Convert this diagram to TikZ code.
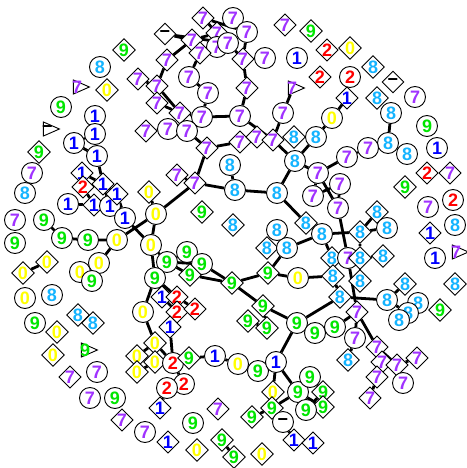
\documentclass[tikz,border=0pt]{standalone}
\usepackage{fontspec}
\setmainfont{Liberation Sans}
\usepackage{tikz}
\usetikzlibrary{shapes.geometric}
\definecolor{zero}{RGB}{255,255,0}
\definecolor{one}{RGB}{0,0,255}
\definecolor{two}{RGB}{255,0,0}
\definecolor{seven}{RGB}{160,50,255}
\definecolor{eight}{RGB}{20,180,255}
\definecolor{nine}{RGB}{0,230,0}
\pgfdeclarelayer{back}
\pgfsetlayers{back,main}

\begin{document}
\begin{tikzpicture}[
      x=1pt, y=-1pt,
      every node/.style={font=\bfseries\fontsize{18}{18}\selectfont, inner sep=0pt},
      rn/.style={circle, draw, fill=white, line width=0.9pt, minimum size=21pt},
      dm/.style={diamond, draw, fill=white, line width=0.9pt, minimum size=22pt, aspect=1},
      tr/.style={isosceles triangle, isosceles triangle stretches, draw, fill=white,
                 line width=0.9pt, minimum height=16pt, minimum width=14pt, shape border rotate=0,
                 label={[#1, anchor=west, xshift=-1pt]west:\trlabel}},
      c0/.style={text=zero}, c1/.style={text=one}, c2/.style={text=two},
      c7/.style={text=seven}, c8/.style={text=eight}, c9/.style={text=nine},
      edge/.style={line width=2.8pt},
      ]
      \useasboundingbox (0,0) rectangle (466,468);
      % top left, loose
      \node[dm,c9] (a1) at (124,50) {9};
      \node[rn,c8] (a2) at (100,67) {8};
      \def\trlabel{7}
      \node[tr=c7] (a3) at (78,87) {};
      \node[dm,c0] (a4) at (107,90) {0};
      \node[rn,c9] (a5) at (61,107) {9};
      \def\trlabel{−}
      \node[tr=black] (a6) at (48,129) {};
      \node[dm,c9] (a7) at (39,152) {9};
      % ones
      \node[rn,c1] (b1) at (95,116) {1};
      \node[rn,c1] (b2) at (95,134) {1};
      \node[rn,c1] (b3) at (74,143) {1};
      \node[rn,c1] (b4) at (97,156) {1};
      \node[dm,c1] (b5) at (82,173) {1};
      \node[dm,c2] (b6) at (83,187) {2};
      \node[dm,c1] (b7) at (103,184) {1};
      \node[rn,c1] (b8) at (68,204) {1};
      \node[dm,c1] (b9) at (94,205) {1};
      \node[rn,c1] (b10) at (110,206) {1};
      \node[dm,c1] (b11) at (117,194) {1};
      \node[rn,c1] (b12) at (125,218) {1};
      % left side
      \node[rn,c7] (c1) at (32,173) {7};
      \node[rn,c8] (c2) at (25,193) {8};
      \node[rn,c7] (c3) at (15,220) {7};
      \node[rn,c9] (c4) at (15,243) {9};
      \node[rn,c9] (c5) at (44,220) {9};
      \node[rn,c9] (c6) at (62,238) {9};
      \node[rn,c9] (c7) at (88,240) {9};
      \node[rn,c0] (c8) at (117,240) {0};
      \node[rn,c0] (c9) at (99,263) {0};
      \node[rn,c0] (c10) at (80,272) {0};
      \node[rn,c9] (c11) at (92,281) {9};
      \node[dm,c0] (c12) at (23,273) {0};
      \node[dm,c0] (c13) at (47,262) {0};
      \node[rn,c0] (c14) at (25,298) {0};
      \node[rn,c8] (c15) at (52,295) {8};
      % lower left
      \node[dm,c8] (d1) at (78,315) {8};
      \node[dm,c8] (d2) at (93,323) {8};
      \node[rn,c9] (d3) at (35,323) {9};
      \node[dm,c0] (d4) at (57,332) {0};
      \node[dm,c0] (d5) at (53,355) {0};
      \def\trlabel{9}
      \node[tr=c9] (d6) at (86,350) {};
      \node[dm,c7] (d7) at (70,377) {7};
      \node[rn,c7] (d8) at (97,372) {7};
      \node[rn,c7] (d9) at (90,398) {7};
      \node[rn,c9] (d10) at (115,398) {9};
      \node[dm,c7] (d11) at (122,420) {7};
      \node[rn,c7] (d12) at (145,432) {7};
      % zeros and nines
      \node[dm,c0] (e1) at (149,192) {0};
      \node[rn,c0] (e2) at (156,214) {0};
      \node[rn,c0] (e3) at (151,245) {0};
      \node[rn,c9] (e4) at (167,262) {9};
      \node[rn,c9] (e5) at (187,252) {9};
      \node[rn,c9] (e6) at (202,264) {9};
      \node[dm,c9] (e7) at (190,275) {9};
      \node[rn,c9] (e8) at (155,278) {9};
      \node[dm,c9] (e9) at (232,283) {9};
      \node[dm,c1] (e10) at (162,297) {1};
      \node[dm,c2] (e11) at (177,297) {2};
      \node[dm,c2] (e12) at (177,312) {2};
      \node[dm,c2] (e13) at (195,309) {2};
      \node[rn,c0] (e14) at (143,312) {0};
      \node[dm,c1] (e15) at (170,327) {1};
      \node[dm,c0] (f1) at (155,343) {0};
      \node[dm,c0] (f2) at (137,356) {0};
      \node[dm,c0] (f3) at (155,362) {0};
      \node[dm,c0] (f4) at (137,372) {0};
      % bottom chain
      \node[rn,c2] (g1) at (173,363) {2};
      \node[dm,c9] (g2) at (189,358) {9};
      \node[rn,c1] (g3) at (215,356) {1};
      \node[rn,c0] (g4) at (238,364) {0};
      \node[rn,c9] (g5) at (258,371) {9};
      \node[rn,c1] (g6) at (276,362) {1};
      \node[rn,c2] (g7) at (184,384) {2};
      \node[rn,c2] (g8) at (167,388) {2};
      \node[dm,c1] (g9) at (160,408) {1};
      \node[dm,c0] (g10) at (273,392) {0};
      \node[rn,c9] (g11) at (298,392) {9};
      \node[rn,c9] (g12) at (310,377) {9};
      \node[dm,c9] (g13) at (272,408) {9};
      \node[dm,c9] (g14) at (252,417) {9};
      \node[rn] (g15) at (283,422) {−};
      \node[dm,c1] (g16) at (294,440) {1};
      \node[dm,c9] (g17) at (323,392) {9};
      \node[dm,c9] (g18) at (323,407) {9};
      \node[rn,c9] (g19) at (306,410) {9};
      \node[dm,c1] (g20) at (313,443) {1};
      % bottom, loose
      \node[dm,c7] (h1) at (218,409) {7};
      \node[rn,c9] (h2) at (193,423) {9};
      \node[dm,c1] (h3) at (168,442) {1};
      \node[dm,c0] (h4) at (197,450) {0};
      \node[dm,c9] (h5) at (222,440) {9};
      \node[dm,c9] (h6) at (234,457) {9};
      \node[dm,c0] (h7) at (262,454) {0};
      % nines in the middle
      \node[dm,c9] (i1) at (263,306) {9};
      \node[dm,c9] (i2) at (248,321) {9};
      \node[dm,c9] (i3) at (267,328) {9};
      \node[rn,c9] (i4) at (297,323) {9};
      \node[rn,c9] (i5) at (315,333) {9};
      \node[rn,c9] (i6) at (335,327) {9};
      % eights in the middle
      \node[rn,c8] (j1) at (230,165) {8};
      \node[rn,c8] (j2) at (235,190) {8};
      \node[dm,c7] (j3) at (177,175) {7};
      \node[dm,c7] (j4) at (195,183) {7};
      \node[dm,c9] (j5) at (202,212) {9};
      \node[dm,c8] (j6) at (233,225) {8};
      \node[rn,c8] (j7) at (277,193) {8};
      \node[rn,c8] (j8) at (295,161) {8};
      \node[dm,c9] (j9) at (268,273) {9};
      \node[rn,c0] (j10) at (298,278) {0};
      \node[dm,c8] (j11) at (267,248) {8};
      \node[rn,c8] (j12) at (287,248) {8};
      \node[rn,c8] (j13) at (277,230) {8};
      \node[dm,c8] (j14) at (306,223) {8};
      \node[rn,c8] (j15) at (322,234) {8};
      % right middle
      \node[rn,c7] (k1) at (318,173) {7};
      \node[rn,c7] (k2) at (340,184) {7};
      \node[rn,c7] (k3) at (313,196) {7};
      \node[rn,c7] (k4) at (338,208) {7};
      \node[dm,c8] (k5) at (377,212) {8};
      \node[rn,c8] (k6) at (387,228) {8};
      \node[dm,c8] (k7) at (360,232) {8};
      \node[dm,c8] (k8) at (332,258) {8};
      \node[rn,c7] (k9) at (348,258) {7};
      \node[dm,c8] (k10) at (360,258) {8};
      \node[dm,c8] (k11) at (383,256) {8};
      \node[dm,c8] (k12) at (333,276) {8};
      \node[dm,c8] (k13) at (360,281) {8};
      \node[dm,c8] (k14) at (340,297) {8};
      \node[dm,c8] (k15) at (405,284) {8};
      \node[rn,c8] (k16) at (387,300) {8};
      \node[rn,c8] (k17) at (418,303) {8};
      \node[rn,c8] (k18) at (408,313) {8};
      \node[rn,c8] (k19) at (399,320) {8};
      \node[dm,c9] (k20) at (440,310) {9};
      % right side, loose
      \node[dm,c9] (m1) at (405,187) {9};
      \node[dm,c2] (m2) at (427,173) {2};
      \node[dm,c7] (m3) at (450,173) {7};
      \node[rn,c7] (m4) at (428,207) {7};
      \node[rn,c2] (m5) at (453,200) {2};
      \node[rn,c8] (m6) at (455,225) {8};
      \node[dm,c1] (m7) at (430,233) {1};
      \node[rn,c1] (m8) at (435,258) {1};
      \def\trlabel{7}
      \node[tr=c7] (m9) at (457,252) {};
      \node[dm,c8] (m10) at (455,284) {8};
      % sevens, lower right
      \node[dm,c7] (n1) at (357,312) {7};
      \node[rn,c7] (n2) at (355,338) {7};
      \node[dm,c8] (n3) at (348,360) {8};
      \node[dm,c7] (n4) at (377,347) {7};
      \node[dm,c7] (n5) at (382,362) {7};
      \node[dm,c7] (n6) at (377,377) {7};
      \node[dm,c7] (n7) at (397,365) {7};
      \node[dm,c7] (n8) at (417,358) {7};
      \node[rn,c7] (n9) at (403,383) {7};
      \node[dm,c7] (n10) at (370,398) {7};
      % top right
      \node[rn,c1] (p1) at (297,58) {1};
      \node[dm,c7] (p2) at (285,25) {7};
      \node[dm,c9] (p3) at (311,31) {9};
      \node[dm,c2] (p4) at (327,50) {2};
      \node[dm,c0] (p5) at (350,48) {0};
      \node[dm,c8] (p6) at (373,67) {8};
      \node[dm,c2] (p7) at (320,77) {2};
      \node[rn,c2] (p8) at (350,77) {2};
      \node[dm] (p9) at (393,82) {−};
      \node[rn,c7] (p10) at (415,97) {7};
      \node[dm,c1] (p11) at (347,98) {1};
      \node[dm,c8] (p12) at (377,98) {8};
      \node[rn,c0] (p13) at (332,118) {0};
      \node[rn,c8] (p14) at (391,113) {8};
      \node[rn,c9] (p15) at (427,126) {9};
      \node[rn,c8] (p16) at (316,137) {8};
      \node[rn,c8] (p17) at (388,143) {8};
      \node[rn,c7] (p18) at (368,148) {7};
      \node[rn,c7] (p19) at (347,157) {7};
      \node[rn,c8] (p20) at (407,154) {8};
      \node[rn,c1] (p21) at (437,148) {1};
      \node[dm,c8] (p22) at (294,137) {8};
      % sevens, top
      \node[dm] (q1) at (165,34) {−};
      \node[dm,c7] (q2) at (203,18) {7};
      \node[rn,c7] (q3) at (233,18) {7};
      \node[rn,c7] (q4) at (247,32) {7};
      \node[dm,c7] (q5) at (217,33) {7};
      \node[dm,c7] (q6) at (192,40) {7};
      \node[rn,c7] (q7) at (217,47) {7};
      \node[rn,c7] (q8) at (228,43) {7};
      \node[dm,c7] (q9) at (200,53) {7};
      \node[dm,c7] (q10) at (243,59) {7};
      \node[rn,c7] (q11) at (265,58) {7};
      \node[dm,c7] (q12) at (167,60) {7};
      \node[rn,c7] (q13) at (189,77) {7};
      \node[rn,c7] (q14) at (208,93) {7};
      \node[dm,c7] (q15) at (247,88) {7};
      \node[dm,c7] (q16) at (157,86) {7};
      \node[dm,c7] (q17) at (157,103) {7};
      \def\trlabel{7}
      \node[tr=c7] (q18) at (293,88) {};
      \node[rn,c7] (q19) at (283,113) {7};
      \node[dm,c7] (q20) at (180,113) {7};
      \node[rn,c7] (q21) at (202,117) {7};
      \node[rn,c7] (q22) at (240,116) {7};
      \node[rn,c7] (q23) at (168,129) {7};
      \node[rn,c7] (q24) at (187,131) {7};
      \node[dm,c7] (q25) at (146,131) {7};
      \node[dm,c7] (q26) at (207,148) {7};
      \node[dm,c7] (q27) at (240,142) {7};
      \node[dm,c7] (q28) at (257,137) {7};
      \node[dm,c7] (q29) at (273,140) {7};
      \node[dm,c7] (q30) at (138,79) {7};

      \begin{pgfonlayer}{back}
      \draw[edge] (b1) -- (b2) -- (b3) -- (b4) -- (b7) -- (b11) -- (b12) -- (e3);
      \draw[edge] (b5) -- (b7) -- (b10) -- (b12);
      \draw[edge] (b6) -- (b9) -- (b10);
      \draw[edge] (b8) -- (b9);
      \draw[edge] (c5) -- (c6) -- (c7) -- (c8) -- (c9);
      \draw[edge] (c8) -- (e2);
      \draw[edge] (c12) -- (c13);
      \draw[edge] (d1) -- (d2);
      \draw[edge] (e1) -- (e2) -- (e3) -- (e4) -- (e6) -- (e9);
      \draw[edge] (e4) -- (e7) -- (e9);
      \draw[edge] (e4) -- (e5);
      \draw[edge] (e3) -- (e8) -- (e10) -- (e12) -- (e15) -- (g1);
      \draw[edge] (e8) -- (e11) -- (e13);
      \draw[edge] (e8) -- (e14) -- (f1) -- (f2) -- (f3) -- (f4);
      \draw[edge] (f1) -- (g1);
      \draw[edge] (f3) -- (g1);
      \draw[edge] (g1) -- (g2) -- (g3) -- (g4) -- (g5) -- (g6) -- (i4);
      \draw[edge] (g1) -- (g7) -- (g8) -- (g9);
      \draw[edge] (g6) -- (g10);
      \draw[edge] (g6) -- (g11) -- (g13) -- (g14);
      \draw[edge] (g13) -- (g15) -- (g16);
      \draw[edge] (g12) -- (g17);
      \draw[edge] (g11) -- (g18);
      \draw[edge] (g19) -- (g17);
      \draw[edge] (h5) -- (h6);
      \draw[edge] (e9) -- (i1) -- (i4) -- (i5) -- (i6) -- (n1);
      \draw[edge] (i1) -- (i3);
      \draw[edge] (i2) -- (i3);
      \draw[edge] (e9) -- (j9) -- (j10) -- (k12) -- (k14) -- (k16) -- (k15);
      \draw[edge] (i4) -- (k14);
      \draw[edge] (j9) -- (j12) -- (j11);
      \draw[edge] (j12) -- (j15) -- (j14) -- (j7) -- (j2) -- (j1);
      \draw[edge] (j7) -- (j8) -- (p16) -- (p13) -- (p11);
      \draw[edge] (j2) -- (j4) -- (j3);
      \draw[edge] (j4) -- (e2);
      \draw[edge] (j4) -- (q26);
      \draw[edge] (j15) -- (k7) -- (k5);
      \draw[edge] (k7) -- (k6);
      \draw[edge] (k7) -- (k10) -- (k11);
      \draw[edge] (k10) -- (k13);
      \draw[edge] (j15) -- (k8) -- (k12);
      \draw[edge] (k16) -- (k18) -- (k17);
      \draw[edge] (k18) -- (k19);
      \draw[edge] (j8) -- (k1) -- (p19) -- (p18) -- (p17) -- (p14);
      \draw[edge] (p17) -- (p20);
      \draw[edge] (k1) -- (k3) -- (k2) -- (k4) -- (k1);
      \draw[edge] (k4) -- (k9) -- (n1);
      \draw[edge] (n1) -- (n2) -- (n3);
      \draw[edge] (n1) -- (n4) -- (n7) -- (n8);
      \draw[edge] (n7) -- (n9);
      \draw[edge] (n5) -- (n7);
      \draw[edge] (n5) -- (n6) -- (n10);
      \draw[edge] (j8) -- (q29) -- (q19) -- (q18);
      \draw[edge] (q29) -- (q28) -- (q27) -- (q26) -- (q24) -- (q20);
      \draw[edge] (q23) -- (q25);
      \draw[edge] (q29) -- (q22) -- (q21) -- (q14) -- (q13) -- (q9) -- (q6);
      \draw[edge] (q21) -- (q20) -- (q16) -- (q30);
      \draw[edge] (q17) -- (q20);
      \draw[edge] (q16) -- (q12) -- (q6) -- (q1) -- (q8) -- (q10);
      \draw[edge] (q6) -- (q5) -- (q2) -- (q4) -- (q10) -- (q11);
      \draw[edge] (q3) -- (q4);
      \draw[edge] (q5) -- (q8);
      \draw[edge] (q10) -- (q15) -- (q22);
      \end{pgfonlayer}
\end{tikzpicture}
\end{document}
